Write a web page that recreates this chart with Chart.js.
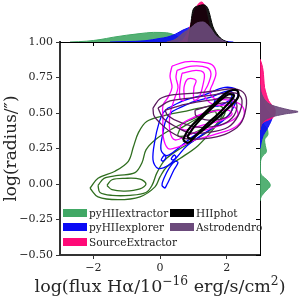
<!DOCTYPE html>
<html>
<head>
<meta charset="utf-8">
<script src="https://cdn.jsdelivr.net/npm/chart.js@4.4.1/dist/chart.umd.min.js"></script>
<style>
  html, body { margin: 0; padding: 0; background: #fff; }
  #wrap { position: relative; width: 300px; height: 300px; overflow: hidden; }
  canvas { position: absolute; }
  #main { left: 0; top: 0; }
  #top { left: 0; top: 0; }
  #side { left: 250px; top: 0; }
  .lg { position: absolute; font: 10.5px 'DejaVu Serif', serif; color: #222; line-height: 14px; white-space: nowrap; }
  .sw { position: absolute; width: 24px; height: 8px; }
  #xtitle { position: absolute; left: -20px; width: 360px; top: 276px; text-align: center;
            font: 17.5px 'DejaVu Serif', serif; line-height: 20px; color: #262626; white-space: nowrap; }
  #xtitle sup { font-size: 70%; vertical-align: 0; position: relative; top: -0.55em; }
</style>
</head>
<body>
<div id="wrap">
  <canvas id="main" width="300" height="300"></canvas>
  <canvas id="top" width="300" height="50"></canvas>
  <canvas id="side" width="50" height="300"></canvas>
  <div id="legend"></div>
  <div id="xtitle">log(flux H&alpha;/10<sup>&minus;16</sup> erg/s/cm<sup>2</sup>)</div>
</div>
<script>
// axes
const xTicks = [-2, 0, 2];
const yTicks = [-0.5, -0.25, 0, 0.25, 0.5, 0.75, 1.0];
const methods = ['pyHIIextractor', 'pyHIIexplorer', 'SourceExtractor', 'HIIphot', 'Astrodendro'];

// contour levels, [log flux, log radius]
const extractorOuter = [[-2.10,-0.03],[-1.86,-0.09],[-1.26,-0.11],[-0.60,-0.09],[-0.15,-0.02],[0.00,0.05],[0.20,0.12],[0.60,0.18],[1.14,0.27],[1.65,0.40],[1.95,0.50],[1.80,0.55],[1.30,0.54],[0.70,0.51],[0.10,0.48],[-0.40,0.44],[-0.65,0.36],[-0.80,0.26],[-0.95,0.16],[-1.35,0.09],[-1.86,0.04]];
const extractorMid = [[-1.86,-0.01],[-1.68,0.04],[-1.26,0.06],[-0.75,0.08],[-0.54,0.15],[-0.42,0.24],[-0.15,0.31],[0.30,0.38],[0.90,0.45],[1.50,0.51],[1.80,0.52],[1.86,0.48],[1.56,0.39],[1.05,0.31],[0.54,0.24],[0.15,0.17],[-0.09,0.08],[-0.24,-0.01],[-0.42,-0.06],[-0.90,-0.08],[-1.44,-0.08],[-1.80,-0.06]];
const extractorInner = [[-1.59,-0.01],[-1.44,0.03],[-1.05,0.04],[-0.60,0.035],[-0.42,0.00],[-0.60,-0.035],[-1.05,-0.05],[-1.44,-0.04]];
const extractorInnerUp = [[0.60,0.39],[1.20,0.47],[1.65,0.51],[1.68,0.465],[1.35,0.40],[0.84,0.345],[0.54,0.34]];

const explorerOuter = [[0.24,0.535],[0.75,0.59],[1.35,0.63],[1.95,0.68],[2.31,0.66],[2.28,0.58],[1.98,0.465],[1.35,0.36],[0.81,0.27],[0.51,0.19],[0.24,0.13],[-0.06,0.11],[-0.21,0.17],[-0.15,0.31],[-0.03,0.43],[0.09,0.50]];
const explorerBlob = [[0.15,-0.03],[0.24,0.01],[0.42,0.10],[0.54,0.15],[0.45,0.16],[0.27,0.11],[0.12,0.04],[0.06,-0.01]];
const explorerMid = [[0.36,0.51],[0.90,0.57],[1.50,0.61],[2.04,0.655],[2.22,0.63],[2.04,0.535],[1.50,0.42],[0.96,0.33],[0.54,0.25],[0.21,0.20],[0.03,0.24],[0.09,0.36],[0.18,0.45]];
const explorerInnerA = [[0.03,0.17],[0.12,0.20],[0.18,0.19],[0.09,0.16]];
const explorerInnerB = [[0.33,0.176],[0.42,0.204],[0.48,0.19],[0.39,0.169]];
const explorerInnerC = [[1.65,0.59],[2.04,0.64],[2.16,0.62],[1.95,0.57],[1.62,0.55]];

const sextOuter = [[0.36,0.83],[0.75,0.86],[1.20,0.86],[1.56,0.84],[1.68,0.78],[1.59,0.71],[1.50,0.65],[1.65,0.60],[2.10,0.59],[2.46,0.55],[2.52,0.48],[2.25,0.40],[1.65,0.35],[1.05,0.31],[0.54,0.26],[0.24,0.25],[0.09,0.34],[0.09,0.465],[0.09,0.556],[0.24,0.61],[0.36,0.68],[0.30,0.76]];
const sextMid = [[0.51,0.80],[0.96,0.83],[1.41,0.82],[1.53,0.775],[1.44,0.70],[1.32,0.63],[1.59,0.56],[2.19,0.55],[2.34,0.49],[2.10,0.44],[1.50,0.39],[0.90,0.35],[0.45,0.31],[0.30,0.37],[0.30,0.49],[0.42,0.59],[0.54,0.68],[0.48,0.75]];
const sextInnerUp = [[0.66,0.78],[1.08,0.80],[1.32,0.78],[1.29,0.70],[1.17,0.61],[1.02,0.59],[1.02,0.68],[1.08,0.73],[0.84,0.74],[0.72,0.68],[0.72,0.59],[0.60,0.60],[0.60,0.70]];
const sextInnerLow = [[0.75,0.44],[1.35,0.50],[2.04,0.52],[2.16,0.49],[1.86,0.45],[1.20,0.41],[0.75,0.38],[0.60,0.40]];

const dendroL1 = [[-0.21,0.535],[0.00,0.60],[0.45,0.63],[1.05,0.64],[1.65,0.655],[2.25,0.67],[2.55,0.63],[2.58,0.535],[2.40,0.42],[1.95,0.35],[1.35,0.32],[0.75,0.32],[0.30,0.37],[0.00,0.43],[-0.18,0.48]];
const dendroL2 = [[-0.06,0.535],[0.30,0.585],[0.90,0.605],[1.65,0.63],[2.28,0.64],[2.46,0.59],[2.34,0.48],[2.04,0.40],[1.50,0.365],[0.90,0.36],[0.42,0.41],[0.09,0.465]];
const dendroL3 = [[0.15,0.52],[0.75,0.56],[1.50,0.59],[2.16,0.605],[2.31,0.55],[2.16,0.465],[1.80,0.415],[1.14,0.40],[0.60,0.435],[0.24,0.48]];
const dendroL4 = [[1.05,0.52],[1.65,0.56],[2.10,0.57],[2.16,0.52],[1.95,0.465],[1.44,0.45],[1.08,0.48]];

const photOuter = [[0.69,0.31],[0.84,0.38],[1.20,0.47],[1.65,0.57],[2.04,0.65],[2.31,0.66],[2.34,0.61],[1.98,0.52],[1.50,0.42],[1.08,0.34],[0.84,0.29]];
const photInner = [[0.81,0.33],[1.08,0.42],[1.56,0.535],[2.04,0.63],[2.22,0.62],[1.86,0.52],[1.38,0.415],[0.96,0.32]];

// top marginal densities, [log flux, density]
const topExtractor = [[-2.7,0],[-2.2,0.02],[-1.8,0.06],[-1.4,0.12],[-1.0,0.17],[-0.6,0.21],[-0.2,0.24],[0.2,0.23],[0.45,0.17],[0.65,0.08],[0.85,0.02],[1.1,0]];
const topExplorer = [[-1.5,0],[-1.0,0.01],[-0.45,0.03],[0.0,0.09],[0.21,0.12],[0.45,0.19],[0.69,0.3],[0.99,0.4],[1.23,0.5],[1.41,0.42],[1.65,0.13],[1.95,0.02],[2.2,0]];
const topSext = [[0.55,0],[0.69,0.05],[0.9,0.38],[1.05,0.8],[1.25,1.0],[1.35,0.87],[1.44,0.55],[1.55,0.22],[1.7,0.05],[1.98,0]];
const topPhot = [[0.84,0],[0.9,0.3],[0.99,0.8],[1.14,0.9],[1.29,0.93],[1.44,0.83],[1.59,0.38],[1.74,0.17],[1.89,0.05],[2.04,0]];
const topDendro = [[0.2,0],[0.45,0.06],[0.69,0.22],[0.9,0.34],[1.1,0.47],[1.29,0.5],[1.5,0.36],[1.65,0.18],[1.89,0.03],[2.0,0]];

// right marginal densities, [log radius, density]
const sideExtractor = [[-0.12,0],[-0.09,0.03],[-0.05,0.15],[-0.01,0.27],[0.03,0.18],[0.06,0.05],[0.09,0.01],[0.14,0.01],[0.19,0.05],[0.23,0.17],[0.27,0.14],[0.31,0.12],[0.35,0.21],[0.38,0.2],[0.42,0.1],[0.45,0.04],[0.5,0]];
const sideExplorer = [[0.25,0],[0.29,0.03],[0.34,0.08],[0.38,0.17],[0.42,0.25],[0.45,0.3],[0.47,0.32],[0.5,0.25],[0.53,0.16],[0.59,0.08],[0.64,0.04],[0.7,0]];
const sideSext = [[0.38,0],[0.42,0.04],[0.44,0.12],[0.46,0.3],[0.48,0.38],[0.51,0.4],[0.535,0.38],[0.56,0.3],[0.59,0.22],[0.63,0.17],[0.68,0.12],[0.74,0.1],[0.8,0.08],[0.84,0.05],[0.88,0]];
const sideDendro = [[0.38,0],[0.415,0.03],[0.451,0.13],[0.472,0.3],[0.493,0.65],[0.509,1.0],[0.521,0.78],[0.556,0.3],[0.585,0.15],[0.613,0.08],[0.65,0.02],[0.7,0]];

const lineCol = { ext: '#2f6e1f', exp: '#0000ff', sext: '#ff00ff', dendro: '#5a1a5e', phot: '#000000' };
const fillCol = ['#41a865', '#0a0af5', '#ff0a78', '#000000', '#6b4a7b'];

const mono = v => (v < 0 ? '\u2212' : '') + Math.abs(v);
const tickFont = { family: 'DejaVu Serif', size: 11 };

function contour(pts, color, width, order) {
  const closed = pts.concat([pts[0]]).map(([x, y]) => ({ x, y }));
  return { data: closed, showLine: true, borderColor: color, borderWidth: width,
           pointRadius: 0, tension: 0.35, fill: false, order };
}

new Chart(document.getElementById('main'), {
  type: 'scatter',
  data: {
    datasets: [
      contour(extractorOuter, lineCol.ext, 1.3, 5),
      contour(extractorMid, lineCol.ext, 1.3, 5),
      contour(extractorInner, lineCol.ext, 1.3, 5),
      contour(extractorInnerUp, lineCol.ext, 1.3, 5),
      contour(explorerOuter, lineCol.exp, 1.3, 4),
      contour(explorerBlob, lineCol.exp, 1.3, 4),
      contour(explorerMid, lineCol.exp, 1.3, 4),
      contour(explorerInnerA, lineCol.exp, 1.3, 4),
      contour(explorerInnerB, lineCol.exp, 1.3, 4),
      contour(explorerInnerC, lineCol.exp, 1.3, 4),
      contour(sextOuter, lineCol.sext, 1.3, 3),
      contour(sextMid, lineCol.sext, 1.3, 3),
      contour(sextInnerUp, lineCol.sext, 1.3, 3),
      contour(sextInnerLow, lineCol.sext, 1.3, 3),
      contour(dendroL1, lineCol.dendro, 1.3, 2),
      contour(dendroL2, lineCol.dendro, 1.3, 2),
      contour(dendroL3, lineCol.dendro, 1.3, 2),
      contour(dendroL4, lineCol.dendro, 1.3, 2),
      contour(photOuter, lineCol.phot, 2.2, 1),
      contour(photInner, lineCol.phot, 2.2, 1)
    ]
  },
  options: {
    responsive: false,
    animation: false,
    events: [],
    layout: { padding: { left: 0, top: 42, right: 40, bottom: 0 } },
    plugins: { legend: { display: false }, tooltip: { enabled: false } },
    scales: {
      x: {
        type: 'linear', min: -3, max: 3,
        afterBuildTicks: s => { s.ticks = xTicks.map(v => ({ value: v })); },
        afterFit: s => { s.height = 45; },
        ticks: { font: tickFont, color: '#262626', padding: 3, maxRotation: 0, callback: mono },
        grid: { drawOnChartArea: false, drawTicks: true, tickLength: 4, color: '#333' },
        border: { display: true, color: '#333', width: 2 }
      },
      y: {
        type: 'linear', min: -0.5, max: 1.0,
        afterBuildTicks: s => { s.ticks = yTicks.map(v => ({ value: v })); },
        afterFit: s => { s.width = 60; },
        ticks: { font: tickFont, color: '#262626', padding: 3,
                 callback: v => (v < 0 ? '\u2212' : '') + Math.abs(v).toFixed(2) },
        grid: { drawOnChartArea: false, drawTicks: true, tickLength: 4, color: '#333' },
        border: { display: true, color: '#333', width: 2 },
        title: { display: true, text: 'log(radius/\u2033)',
                 font: { family: 'DejaVu Serif', size: 17 }, color: '#262626', padding: { top: 1, bottom: 0 } }
      }
    }
  }
});

function density(pts, i, order, swap) {
  return {
    data: pts.map(([a, d]) => swap ? ({ x: d, y: a }) : ({ x: a, y: d })),
    borderColor: fillCol[i], backgroundColor: fillCol[i] + 'e6', borderWidth: 1,
    fill: 'origin', pointRadius: 0, cubicInterpolationMode: 'monotone', order
  };
}

new Chart(document.getElementById('top'), {
  type: 'line',
  data: {
    datasets: [
      density(topExtractor, 0, 5),
      density(topExplorer, 1, 4),
      density(topSext, 2, 3),
      density(topPhot, 3, 2),
      density(topDendro, 4, 1)
    ]
  },
  options: {
    responsive: false,
    animation: false,
    events: [],
    layout: { padding: { left: 60, top: 0, right: 40, bottom: 0 } },
    plugins: { legend: { display: false }, tooltip: { enabled: false } },
    scales: {
      x: {
        type: 'linear', min: -3, max: 3,
        afterBuildTicks: s => { s.ticks = xTicks.map(v => ({ value: v })); },
        afterFit: s => { s.height = 8; },
        ticks: { display: false },
        grid: { drawOnChartArea: false, drawTicks: true, tickLength: 4, color: '#000' },
        border: { display: true, color: '#000', width: 1 }
      },
      y: { display: false, min: 0, max: 1.05 }
    }
  }
});

new Chart(document.getElementById('side'), {
  type: 'line',
  data: {
    datasets: [
      density(sideExtractor, 0, 4, true),
      density(sideExplorer, 1, 3, true),
      density(sideSext, 2, 2, true),
      density(sideDendro, 4, 1, true)
    ]
  },
  options: {
    indexAxis: 'y',
    responsive: false,
    animation: false,
    events: [],
    layout: { padding: { left: 0, top: 42, right: 0, bottom: 45 } },
    plugins: { legend: { display: false }, tooltip: { enabled: false } },
    scales: {
      y: {
        type: 'linear', position: 'left', min: -0.5, max: 1.0,
        afterBuildTicks: s => { s.ticks = yTicks.map(v => ({ value: v })); },
        afterFit: s => { s.width = 10; },
        ticks: { display: false },
        grid: { drawOnChartArea: false, drawTicks: true, tickLength: 4, color: '#000' },
        border: { display: true, color: '#000', width: 1 }
      },
      x: { type: 'linear', display: false, min: 0, max: 1.05 }
    }
  }
});

// legend inside the main panel, two columns
const legendPos = [[63, 212.5], [63, 227], [63, 241.5], [170, 212.5], [170, 227]];
const legendEl = document.getElementById('legend');
methods.forEach((name, i) => {
  const [lx, cy] = legendPos[i];
  const sw = document.createElement('div');
  sw.className = 'sw';
  sw.style.left = lx + 'px';
  sw.style.top = (cy - 4) + 'px';
  sw.style.background = fillCol[i];
  legendEl.appendChild(sw);
  const tx = document.createElement('div');
  tx.className = 'lg';
  tx.style.left = (lx + 26) + 'px';
  tx.style.top = (cy - 7) + 'px';
  tx.textContent = name;
  legendEl.appendChild(tx);
});
</script>
</body>
</html>
